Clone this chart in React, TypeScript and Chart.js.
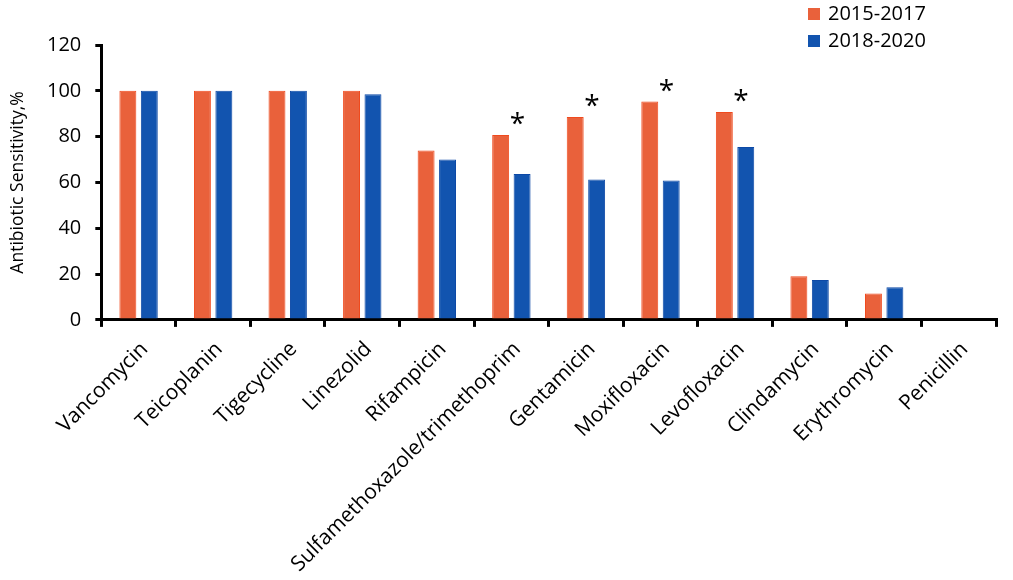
import { useEffect, useRef } from 'react';
import Chart from 'chart.js/auto';

// antibiotic sensitivity, 2015-2017 vs 2018-2020
const FONT = '"Open Sans", sans-serif';

const drugs = [
  'Vancomycin',
  'Teicoplanin',
  'Tigecycline',
  'Linezolid',
  'Rifampicin',
  'Sulfamethoxazole/trimethoprim',
  'Gentamicin',
  'Moxifloxacin',
  'Levofloxacin',
  'Clindamycin',
  'Erythromycin',
  'Penicillin',
];
const early = [100, 100, 100, 100, 74, 80.7, 88.6, 95.3, 90.8, 19.1, 11.5, 0];
const late = [100, 100, 100, 98.5, 70, 63.7, 61.3, 60.9, 75.5, 17.4, 14.3, 0];
const significant = [false, false, false, false, false, true, true, true, true, false, false, false];
const yTicks = [0, 20, 40, 60, 80, 100, 120];

const ORANGE = '#e9613b';
const BLUE = '#1254af';

// stars over the significant pairs + the stacked legend in the top right
const marks = {
  id: 'marks',
  afterDatasetsDraw(chart: Chart) {
    const { ctx } = chart;
    const x = chart.scales.x;
    const y = chart.scales.y;
    ctx.save();
    ctx.fillStyle = '#000';
    ctx.font = `28px ${FONT}`;
    ctx.textAlign = 'center';
    ctx.textBaseline = 'alphabetic';
    significant.forEach((s, i) => {
      if (!s) return;
      const px = x.getPixelForValue(i) + 6;
      const py = y.getPixelForValue(early[i]) - 2;
      ctx.fillText('*', px, py);
    });

    ctx.font = `20px ${FONT}`;
    ctx.textAlign = 'left';
    ctx.textBaseline = 'middle';
    chart.data.datasets.forEach((ds, i) => {
      const top = 8 + i * 27;
      ctx.fillStyle = ds.backgroundColor as string;
      ctx.fillRect(808, top, 12, 12);
      ctx.fillStyle = '#000';
      ctx.fillText(ds.label as string, 828, top + 6);
    });
    ctx.restore();
  },
};

export default function App() {
  const ref = useRef<HTMLCanvasElement | null>(null);

  useEffect(() => {
    const el = ref.current;
    if (!el) return;

    const chart = new Chart(el, {
      type: 'bar',
      data: {
        labels: drugs,
        datasets: [
          {
            label: '2015-2017',
            data: early,
            backgroundColor: ORANGE,
            borderColor: '#f04a1e',
            borderWidth: 1,
            categoryPercentage: 0.575,
            barPercentage: 0.79,
          },
          {
            label: '2018-2020',
            data: late,
            backgroundColor: BLUE,
            borderColor: '#0d49a6',
            borderWidth: 1,
            categoryPercentage: 0.575,
            barPercentage: 0.79,
          },
        ],
      },
      options: {
        animation: false,
        responsive: true,
        maintainAspectRatio: false,
        layout: { padding: { left: 8, right: 17, top: 45, bottom: -7 } },
        scales: {
          x: {
            grid: {
              offset: true,
              drawOnChartArea: false,
              color: '#000',
              lineWidth: 3,
              tickLength: 7,
            },
            border: { color: '#000', width: 3 },
            ticks: {
              color: '#000',
              font: { family: FONT, size: 21 },
              maxRotation: 45,
              minRotation: 45,
              autoSkip: false,
              padding: 10,
              labelOffset: 6,
            },
          },
          y: {
            min: 0,
            max: 120,
            afterBuildTicks: (axis) => {
              axis.ticks = yTicks.map((v) => ({ value: v }));
            },
            grid: {
              drawOnChartArea: false,
              color: '#000',
              lineWidth: 3,
              tickLength: 6,
            },
            border: { color: '#000', width: 3 },
            ticks: {
              color: '#000',
              font: { family: FONT, size: 20 },
              padding: 14,
            },
            title: {
              display: true,
              text: 'Antibiotic Sensitivity,%',
              color: '#000',
              font: { family: FONT, size: 17.5 },
              padding: { top: 0, bottom: 4 },
            },
          },
        },
        plugins: {
          legend: { display: false },
          tooltip: { enabled: false },
        },
      },
      plugins: [marks],
    });

    return () => chart.destroy();
  }, []);

  return (
    <div style={{ position: 'absolute', left: 0, top: 0, width: 1013, height: 580, background: '#fff' }}>
      <canvas ref={ref} />
    </div>
  );
}
